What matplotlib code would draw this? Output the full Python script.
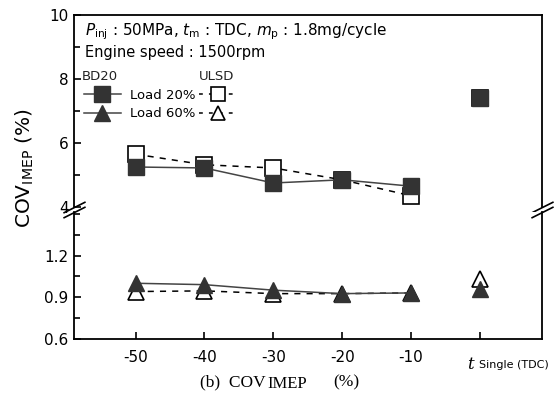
import matplotlib.pyplot as plt
from matplotlib.ticker import MultipleLocator
from matplotlib.transforms import blended_transform_factory

# injection timing (deg), last point is single injection at TDC
timing = [-50, -40, -30, -20, -10, 0]
tick_labels = ["-50", "-40", "-30", "-20", "-10", ""]

# COV of IMEP (%)
bd20_load20 = [5.25, 5.22, 4.75, 4.85, 4.65, 7.4]
ulsd_load20 = [5.65, 5.32, 5.22, 4.85, 4.35, 7.4]
bd20_load60 = [1.0, 0.99, 0.95, 0.925, 0.93, 0.96]
ulsd_load60 = [0.94, 0.945, 0.925, 0.925, 0.93, 1.03]

plt.rcParams["font.family"] = "DejaVu Sans"

fig = plt.figure(figsize=(5.56, 3.96), dpi=100)
ax_top = fig.add_axes([0.1322, 0.4773, 0.8426, 0.4848])
ax_bot = fig.add_axes([0.1322, 0.1452, 0.8426, 0.3194], sharex=ax_top)

fill_c = "#333333"
ms = 12


def draw(ax, bd, ul, marker):
    ax.plot(timing[:5], ul[:5], ls=(0, (4, 4)), color="black", lw=1.1, zorder=2)
    ax.plot(timing, ul, ls="none", marker=marker, ms=ms, mfc="white",
            mec="black", mew=1.2, zorder=3)
    ax.plot(timing[:5], bd[:5], ls="-", color="#444444", lw=1.1, zorder=4)
    ax.plot(timing, bd, ls="none", marker=marker, ms=ms, mfc=fill_c,
            mec=fill_c, zorder=5)


draw(ax_top, bd20_load20, ulsd_load20, "s")
draw(ax_bot, bd20_load60, ulsd_load60, "^")

ax_top.set_ylim(4, 10)
ax_top.yaxis.set_major_locator(MultipleLocator(2))
ax_top.yaxis.set_minor_locator(MultipleLocator(1))
ax_bot.set_ylim(0.6, 1.516)
ax_bot.set_yticks([0.6, 0.9, 1.2])
ax_bot.yaxis.set_minor_locator(MultipleLocator(0.15))
ax_bot.set_xlim(-59, 9)
ax_bot.set_xticks(timing)
ax_bot.set_xticklabels(tick_labels)

for ax in (ax_top, ax_bot):
    for s in ax.spines.values():
        s.set_linewidth(1.3)
    ax.tick_params(which="both", direction="in", labelsize=11, width=1.2,
                   right=False, top=False)
    ax.tick_params(which="major", length=5)
    ax.tick_params(which="minor", length=4)
ax_top.spines["bottom"].set_visible(False)
ax_bot.spines["top"].set_visible(False)
ax_top.tick_params(axis="x", which="both", bottom=False, labelbottom=False)
ax_bot.tick_params(axis="x", pad=8)

# break marks "//" on both spines
brk = dict(marker=[(-1, -0.5), (1, 0.5)], markersize=16, linestyle="none",
           color="black", mec="black", mew=1.2, clip_on=False)
ax_top.plot([0, 1], [0, 0], transform=ax_top.transAxes, **brk)
ax_bot.plot([0, 1], [1, 1], transform=ax_bot.transAxes, **brk)

# x label for single injection
trans = blended_transform_factory(ax_bot.transData, ax_bot.transAxes)
ax_bot.annotate("t", xy=(0, 0), xycoords=trans, xytext=(-9, -19),
                textcoords="offset points", fontsize=12, style="italic",
                ha="left", va="center", family="DejaVu Serif")
ax_bot.annotate("Single (TDC)", xy=(0, 0), xycoords=trans, xytext=(-1, -19),
                textcoords="offset points", fontsize=8, ha="left", va="center")

# condition text
ax_top.text(0.025, 0.912, r"$P_{\rm inj}$ : 50MPa, $t_{\rm m}$ : TDC, $m_{\rm p}$ : 1.8mg/cycle",
            transform=ax_top.transAxes, fontsize=11, va="center")
ax_top.text(0.025, 0.805, "Engine speed : 1500rpm", transform=ax_top.transAxes,
            fontsize=10.5, va="center")
ax_top.text(0.018, 0.68, "BD20", transform=ax_top.transAxes, fontsize=9.5,
            va="center", color="#222222")
ax_top.text(0.268, 0.68, "ULSD", transform=ax_top.transAxes, fontsize=9.5,
            va="center", color="#222222")

h1, = plt.plot([], [], ls="-", color="#444444", lw=1.1, marker="s", ms=ms,
               mfc=fill_c, mec=fill_c)
h2, = plt.plot([], [], ls="-", color="#444444", lw=1.1, marker="^", ms=ms,
               mfc=fill_c, mec=fill_c)
h3, = plt.plot([], [], ls=(0, (2.5, 4)), color="black", lw=1.1, marker="s",
               ms=ms * 0.85, mfc="white", mec="black", mew=1.2)
h4, = plt.plot([], [], ls=(0, (2.5, 4)), color="black", lw=1.1, marker="^",
               ms=ms * 0.85, mfc="white", mec="black", mew=1.2)
ax_top.legend([h1, h2, h3, h4], ["Load 20%", "Load 60%", "", ""], ncol=2,
              loc="upper left", bbox_to_anchor=(0.022, 0.615), frameon=False,
              fontsize=9.5, handlelength=2.8, handletextpad=0.7,
              columnspacing=0.3, labelspacing=0.4, borderpad=0,
              borderaxespad=0)

fig.text(0.045, 1 - 168 / 396, r"COV$_{\rm IMEP}$ (%)", rotation=90,
         fontsize=14.5, ha="center", va="center")

# caption
cap_y = 1 - 382 / 396
fig.text(200 / 556, cap_y, "(b)  COV", family="Liberation Serif", fontsize=12.5,
         va="center", ha="left")
fig.text(267 / 556, cap_y - 0.005, "IMEP", family="Liberation Serif", fontsize=12,
         va="center", ha="left")
fig.text(333 / 556, cap_y, "(%)", family="Liberation Serif", fontsize=12.5,
         va="center", ha="left")

fig.savefig("out.png", dpi=100)
